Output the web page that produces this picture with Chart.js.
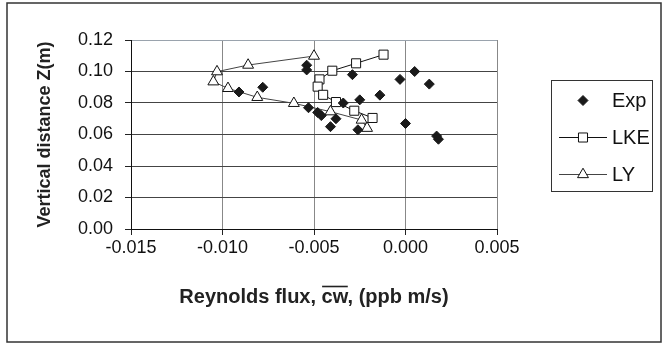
<!DOCTYPE html>
<html><head><meta charset="utf-8">
<script src="https://cdn.jsdelivr.net/npm/chart.js@4/dist/chart.umd.min.js"></script>
<style>html,body{margin:0;padding:0;background:#fff}#wrap{width:663px;height:346px;position:relative}</style>
</head><body><div id="wrap"><canvas id="c" width="663" height="346"></canvas></div>
<script>
// ---- data ----
const expX = [-0.0054, -0.0054, -0.0029, -0.0078, -0.0091, -0.0003, 0.0005, 0.0013, -0.0014, -0.0025, -0.0034, -0.0053, -0.0048, -0.0046, -0.0038, -0.0041, -0.0026, 0.0000, 0.0017, 0.0018];
const expY = [0.104, 0.101, 0.098, 0.090, 0.087, 0.095, 0.100, 0.092, 0.085, 0.082, 0.080, 0.077, 0.074, 0.072, 0.070, 0.065, 0.063, 0.067, 0.059, 0.057];
const lkeX = [-0.0012, -0.0027, -0.0040, -0.0047, -0.0048, -0.0045, -0.0038, -0.0028, -0.0018];
const lkeY = [0.1107, 0.1052, 0.1005, 0.0950, 0.0904, 0.0852, 0.0806, 0.0751, 0.0705];
const lyX = [-0.0050, -0.0086, -0.0103, -0.0105, -0.0097, -0.0081, -0.0061, -0.0041, -0.0024, -0.0021];
const lyY = [0.1098, 0.1041, 0.0999, 0.0935, 0.0893, 0.0836, 0.0798, 0.0745, 0.0692, 0.0640];
const xTicks = [-0.015, -0.010, -0.005, 0.000, 0.005];
const yTicks = [0.00, 0.02, 0.04, 0.06, 0.08, 0.10, 0.12];
const seriesNames = ['Exp', 'LKE', 'LY'];
const xTitle = 'Reynolds flux, cw, (ppb m/s)';
const xTitleOverlined = 'cw';
const yTitle = 'Vertical distance Z(m)';

const FONT = '"Liberation Sans", Arial, Helvetica, sans-serif';
const pts = (xs, ys) => xs.map((x, i) => ({x: x, y: ys[i]}));

const extras = {
  id: 'extras',
  afterDraw(chart) {
    const ctx = chart.ctx;
    ctx.save();
    // outer frame
    ctx.strokeStyle = '#333';
    ctx.lineWidth = 1.5;
    ctx.strokeRect(7, 3, 654, 339);
    // overline on "cw" in x title
    const xs = chart.scales.x;
    const tf = xs.options.title.font;
    ctx.font = 'bold ' + tf.size + 'px ' + FONT;
    const fullW = ctx.measureText(xTitle).width;
    const cx = (xs.left + xs.right) / 2;
    const cy = xs.bottom - tf.size * tf.lineHeight / 2;
    const idx = xTitle.indexOf(xTitleOverlined);
    const preW = ctx.measureText(xTitle.slice(0, idx)).width;
    const owW = ctx.measureText(xTitleOverlined).width;
    const sx = cx - fullW / 2 + preW;
    ctx.strokeStyle = '#222';
    ctx.lineWidth = 1.6;
    ctx.beginPath();
    const oy = Math.round(cy - tf.size * 0.55) + 0.5;
    ctx.moveTo(sx + 0.5, oy);
    ctx.lineTo(sx + owW - 0.5, oy);
    ctx.stroke();
    // legend
    const lx = 551, ly = 80, lw = 101, lh = 111;
    ctx.strokeStyle = '#333';
    ctx.lineWidth = 1;
    ctx.strokeRect(lx + 0.5, ly + 0.5, lw, lh);
    const rows = [100, 137, 174];
    chart.data.datasets.forEach((ds, i) => {
      const y = rows[i];
      if (ds.showLine) {
        ctx.strokeStyle = ds.borderColor;
        ctx.lineWidth = ds.borderWidth;
        ctx.beginPath();
        ctx.moveTo(559, y + 0.5);
        ctx.lineTo(607, y + 0.5);
        ctx.stroke();
      }
      ctx.fillStyle = ds.pointBackgroundColor;
      ctx.strokeStyle = ds.pointBorderColor;
      ctx.lineWidth = ds.pointBorderWidth;
      Chart.helpers.drawPoint(ctx, {pointStyle: ds.pointStyle, radius: ds.pointRadius, rotation: 0, borderWidth: ds.pointBorderWidth}, 583, y + 0.5);
      ctx.fillStyle = '#111';
      ctx.font = '20px ' + FONT;
      ctx.textBaseline = 'middle';
      ctx.textAlign = 'left';
      ctx.fillText(ds.label, 612, y + 1);
    });
    ctx.restore();
  }
};

new Chart(document.getElementById('c'), {
  type: 'scatter',
  data: {
    datasets: [
      {label: seriesNames[0], data: pts(expX, expY), pointStyle: 'rectRot', pointRadius: 5, pointHoverRadius: 5,
       pointBackgroundColor: '#1a1a1a', pointBorderColor: '#1a1a1a', pointBorderWidth: 1, showLine: false},
      {label: seriesNames[1], data: pts(lkeX, lkeY), pointStyle: 'rect', pointRadius: 6.4, pointHoverRadius: 6.4,
       pointBackgroundColor: '#fff', pointBorderColor: '#111', pointBorderWidth: 1, showLine: true,
       borderColor: '#111', borderWidth: 1, tension: 0},
      {label: seriesNames[2], data: pts(lyX, lyY), pointStyle: 'triangle', pointRadius: 6.3, pointHoverRadius: 6.3,
       pointBackgroundColor: '#fff', pointBorderColor: '#111', pointBorderWidth: 1, showLine: true,
       borderColor: '#444', borderWidth: 1, tension: 0}
    ]
  },
  options: {
    responsive: false, animation: false, devicePixelRatio: 1,
    layout: {padding: {left: 34, top: 40, right: 166, bottom: 37}},
    plugins: {legend: {display: false}, tooltip: {enabled: false}},
    scales: {
      x: {
        type: 'linear', min: -0.015, max: 0.005,
        afterBuildTicks: s => { s.ticks = xTicks.map(v => ({value: v})); },
        afterFit: s => { s.height = 80; },
        ticks: {callback: v => v.toFixed(3), color: '#111', font: {family: FONT, size: 18}, padding: 2, maxRotation: 0},
        grid: {color: c => c.index === 0 ? '#000' : '#888', lineWidth: 1, tickLength: 6, tickColor: '#222', drawTicks: true},
        border: {color: '#111', width: 1},
        title: {display: true, text: xTitle, color: '#222', font: {family: FONT, size: 20, weight: 'bold', lineHeight: 1.2}, padding: {top: 0, bottom: 0}}
      },
      y: {
        type: 'linear', min: 0, max: 0.12,
        afterBuildTicks: s => { s.ticks = yTicks.map(v => ({value: v})); },
        afterFit: s => { s.width = 97; },
        ticks: {callback: v => v.toFixed(2), color: '#111', font: {family: FONT, size: 18}, padding: 12},
        grid: {color: c => c.index === 6 ? '#9aa3ad' : (c.index === 0 ? '#000' : '#444'), lineWidth: 1, tickLength: 6, tickColor: '#222'},
        border: {color: '#111', width: 1},
        title: {display: true, text: yTitle, color: '#222', font: {family: FONT, size: 18, weight: 'bold', lineHeight: 1.2}, padding: {top: 0, bottom: 0}}
      }
    }
  },
  plugins: [extras]
});
</script>
</body></html>
